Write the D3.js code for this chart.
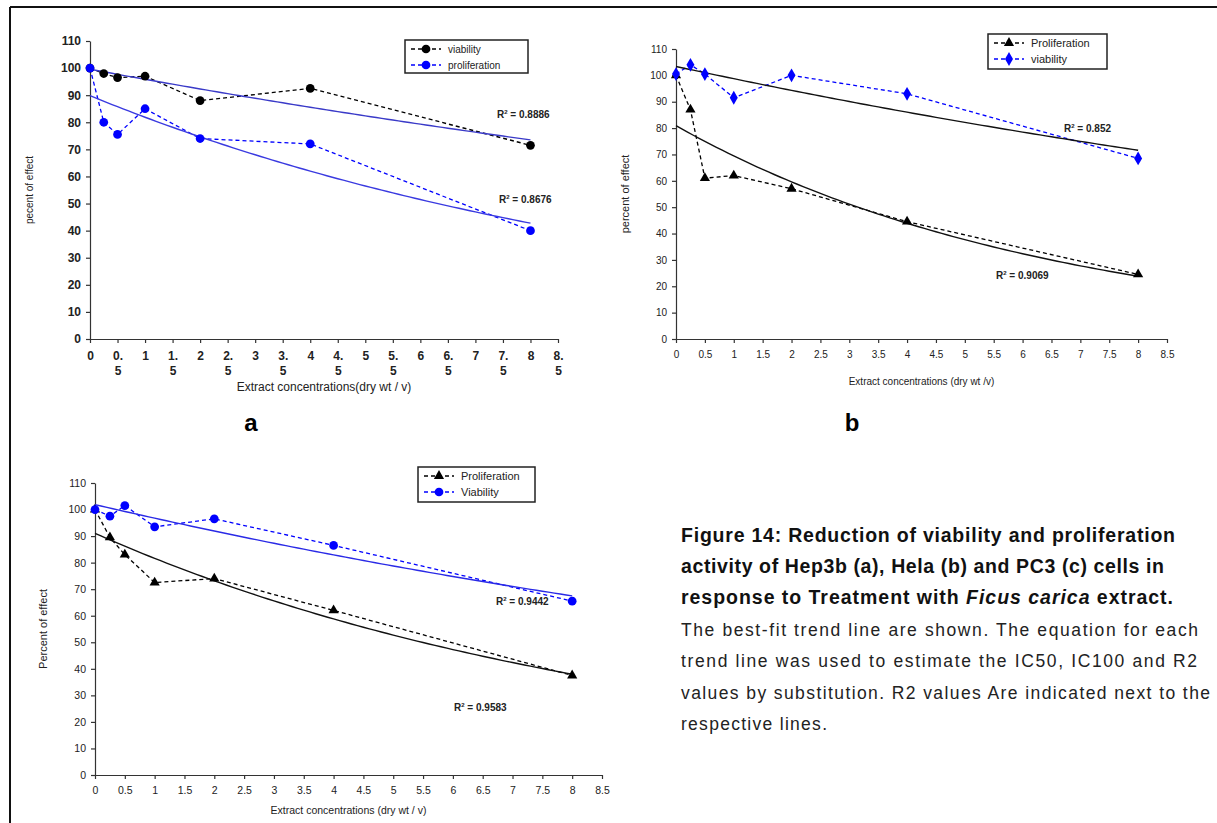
<!DOCTYPE html>
<html>
<head>
<meta charset="utf-8">
<script src="https://cdn.jsdelivr.net/npm/d3@7"></script>
<style>
  body { margin: 0; background: #fff; }
  svg { display: block; }
  text { font-family: "Liberation Sans", Arial, sans-serif; }
</style>
</head>
<body>
<div id="chart"></div>
<script>
// concentrations (dry wt / v), same for all three cell lines
const conc = [0, 0.25, 0.5, 1, 2, 4, 8];

// Hep3b (a)
const hep3bViability     = [100, 98, 96.5, 97, 88, 92.5, 71.5];
const hep3bProliferation = [100, 80, 75.5, 85, 74, 72, 40];
// Hela (b)
const helaProliferation  = [100, 87, 61, 62, 57, 44.5, 24.5];
const helaViability      = [100.5, 104, 100.5, 91.5, 100, 93, 68.5];
// PC3 (c)
const pc3Proliferation   = [100, 89.5, 83, 72.5, 74, 62, 37.5];
const pc3Viability       = [100, 97.5, 101.5, 93.5, 96.5, 86.5, 65.5];

// r squared labels as printed on the figure
const r2Labels = { a: ["0.8886", "0.8676"], b: ["0.9069", "0.852"], c: ["0.9583", "0.9442"] };

const xTicks = d3.range(0, 8.51, 0.5);
const yTicks = d3.range(0, 111, 10);

const W = 1217, H = 823;
const svg = d3.select("#chart").append("svg")
    .attr("width", W)
    .attr("height", H);

// outer frame (left and top only)
svg.append("line").attr("x1", 10).attr("x2", 10).attr("y1", 7).attr("y2", H)
    .attr("stroke", "#111").attr("stroke-width", 2);
svg.append("line").attr("x1", 10).attr("x2", W).attr("y1", 7).attr("y2", 7)
    .attr("stroke", "#111").attr("stroke-width", 2);

// exponential least squares trend, like the spreadsheet does it
function expFit(xs, ys) {
    const ly = ys.map(Math.log);
    const mx = d3.mean(xs), my = d3.mean(ly);
    let sxy = 0, sxx = 0;
    xs.forEach((x, i) => { sxy += (x - mx) * (ly[i] - my); sxx += (x - mx) * (x - mx); });
    const b = sxy / sxx;
    return { a: Math.exp(my - b * mx), b: b };
}

function markerPath(type, size) {
    const sym = type === "triangle" ? d3.symbolTriangle
              : type === "diamond" ? d3.symbolDiamond
              : d3.symbolCircle;
    return d3.symbol().type(sym).size(size)();
}

function drawPanel(p) {
    const x = d3.scaleLinear().domain([0, 8.5]).range([p.left, p.right]);
    const y = d3.scaleLinear().domain([0, 110]).range([p.bottom, p.top]);
    const g = svg.append("g");

    // y axis
    const ya = g.append("g")
        .attr("transform", `translate(${p.left},0)`)
        .call(d3.axisLeft(y).tickValues(yTicks).tickSize(4).tickSizeOuter(0).tickPadding(5));
    ya.selectAll("text").style("font-size", p.tickFont + "px").attr("fill", "#222")
        .style("font-weight", p.tickWeight || "normal");

    // x axis
    const xa = g.append("g")
        .attr("transform", `translate(0,${p.bottom})`)
        .call(d3.axisBottom(x).tickValues(xTicks).tickSize(4).tickSizeOuter(0).tickPadding(8)
            .tickFormat(d => String(d)));
    xa.selectAll("text").style("font-size", p.tickFont + "px").attr("fill", "#222")
        .style("font-weight", p.tickWeight || "normal");
    if (p.twoLineTicks) {
        xa.selectAll("text").each(function(d) {
            const t = d3.select(this);
            const s = String(d);
            if (s.indexOf(".") > 0) {
                const parts = s.split(".");
                t.text(null);
                t.append("tspan").attr("x", 0).text(parts[0] + ".");
                t.append("tspan").attr("x", 0).attr("dy", "1.3em").text(parts[1]);
            }
        });
    }
    g.selectAll(".domain, .tick line").attr("stroke", "#333").attr("stroke-width", 1.2);

    // axis titles
    g.append("text")
        .attr("x", (p.left + p.right) / 2).attr("y", p.xTitleY)
        .attr("text-anchor", "middle")
        .style("font-size", p.titleFont + "px").attr("fill", "#222")
        .text(p.xTitle);
    g.append("text")
        .attr("transform", `translate(${p.yTitleX},${(p.top + p.bottom) / 2}) rotate(-90)`)
        .attr("text-anchor", "middle")
        .style("font-size", p.yTitleFont + "px").attr("fill", "#222")
        .text(p.yTitle);

    const line = d3.line().x(d => x(d[0])).y(d => y(d[1]));

    p.series.forEach(s => {
        const pts = conc.map((c, i) => [c, s.values[i]]);
        const fit = expFit(conc, s.values);
        const trend = d3.range(0, 8.001, 0.1).map(c => [c, fit.a * Math.exp(fit.b * c)]);

        g.append("path").datum(pts)
            .attr("d", line).attr("fill", "none")
            .attr("stroke", s.color).attr("stroke-width", 1.3)
            .attr("stroke-dasharray", "4,3");

        g.append("path").datum(trend)
            .attr("d", line).attr("fill", "none")
            .attr("stroke", s.trendColor).attr("stroke-width", 1.4);

        g.selectAll(null).data(pts).enter().append("path")
            .attr("transform", d => `translate(${x(d[0])},${y(d[1])})`)
            .attr("d", markerPath(s.marker, s.markerSize))
            .attr("fill", s.color);

        const r = g.append("text")
            .attr("x", s.r2x).attr("y", s.r2y)
            .style("font-size", "10px").style("font-weight", "bold").attr("fill", "#222");
        r.append("tspan").text("R");
        r.append("tspan").attr("dy", -4).style("font-size", "6px").text("2");
        r.append("tspan").attr("dy", 4).text(" = " + s.r2);
    });

    // legend
    const lg = g.append("g").attr("transform", `translate(${p.legend.x},${p.legend.y})`);
    lg.append("rect").attr("width", p.legend.w).attr("height", p.legend.h)
        .attr("fill", "#fff").attr("stroke", "#222").attr("stroke-width", 1.5);
    p.series.slice().sort((a, b) => a.legendOrder - b.legendOrder).forEach((s, i) => {
        const ly = 9 + i * 16;
        lg.append("line").attr("x1", 6).attr("x2", 36).attr("y1", ly).attr("y2", ly)
            .attr("stroke", s.color).attr("stroke-width", 1.3).attr("stroke-dasharray", "4,3");
        lg.append("path").attr("transform", `translate(21,${ly})`)
            .attr("d", markerPath(s.marker, s.markerSize)).attr("fill", s.color);
        lg.append("text").attr("x", 43).attr("y", ly + 4)
            .style("font-size", p.legendFont + "px").attr("fill", "#222")
            .text(s.name);
    });

    if (p.label.text) {
        svg.append("text").attr("x", p.label.x).attr("y", p.label.y)
            .attr("text-anchor", "middle")
            .style("font-size", "24px").style("font-weight", "bold")
            .text(p.label.text);
    }
}

// a: Hep3b
drawPanel({
    left: 90, right: 558, top: 41, bottom: 339,
    tickFont: 12, tickWeight: "bold", twoLineTicks: true,
    titleFont: 12, yTitleFont: 10,
    xTitle: "Extract concentrations(dry wt / v)", xTitleY: 391,
    yTitle: "pecent of effect", yTitleX: 33,
    legend: { x: 405, y: 40, w: 123, h: 33 }, legendFont: 10,
    label: { text: "a", x: 251, y: 431 },
    series: [
        { name: "viability", values: hep3bViability, color: "#000", marker: "circle", markerSize: 60,
          trendColor: "#3a3ac8", r2: r2Labels.a[0], r2x: 497, r2y: 118, legendOrder: 0 },
        { name: "proliferation", values: hep3bProliferation, color: "#0000ff", marker: "circle", markerSize: 60,
          trendColor: "#3a3ae0", r2: r2Labels.a[1], r2x: 499, r2y: 203, legendOrder: 1 }
    ]
});

// b: Hela
drawPanel({
    left: 676, right: 1167, top: 49, bottom: 339,
    tickFont: 10, twoLineTicks: false,
    titleFont: 10, yTitleFont: 11,
    xTitle: "Extract concentrations (dry wt /v)", xTitleY: 385,
    yTitle: "percent of effect", yTitleX: 629,
    legend: { x: 988, y: 34, w: 119, h: 35 }, legendFont: 11,
    label: { text: "b", x: 852, y: 431 },
    series: [
        { name: "Proliferation", values: helaProliferation, color: "#000", marker: "triangle", markerSize: 45,
          trendColor: "#111", r2: r2Labels.b[0], r2x: 996, r2y: 279, legendOrder: 0 },
        { name: "viability", values: helaViability, color: "#0000ff", marker: "diamond", markerSize: 55,
          trendColor: "#111", r2: r2Labels.b[1], r2x: 1064, r2y: 132, legendOrder: 1 }
    ]
});

// c: PC3
drawPanel({
    left: 95, right: 602, top: 483, bottom: 775,
    tickFont: 10.5, twoLineTicks: false,
    titleFont: 10.5, yTitleFont: 11,
    xTitle: "Extract concentrations (dry wt / v)", xTitleY: 814,
    yTitle: "Percent of effect", yTitleX: 47,
    legend: { x: 418, y: 467, w: 117, h: 35 }, legendFont: 11,
    label: { text: "", x: 0, y: 0 },
    series: [
        { name: "Proliferation", values: pc3Proliferation, color: "#000", marker: "triangle", markerSize: 45,
          trendColor: "#111", r2: r2Labels.c[0], r2x: 454, r2y: 711, legendOrder: 0 },
        { name: "Viability", values: pc3Viability, color: "#0000ff", marker: "circle", markerSize: 60,
          trendColor: "#2a2ae6", r2: r2Labels.c[1], r2x: 496, r2y: 605, legendOrder: 1 }
    ]
});

// caption (widths matched to the reference with textLength)
const cap = svg.append("g").attr("fill", "#111");
const boldLines = [
    { w: 494, parts: [{ t: "Figure 14:  Reduction of viability and proliferation" }] },
    { w: 483, parts: [{ t: "activity of Hep3b (a), Hela (b) and PC3 (c) cells  in" }] },
    { w: 492, parts: [{ t: "response to Treatment with " }, { t: "Ficus carica", i: true }, { t: " extract." }] }
];
boldLines.forEach((ln, k) => {
    const t = cap.append("text").attr("x", 681).attr("y", 542 + k * 31)
        .attr("textLength", ln.w).attr("lengthAdjust", "spacing")
        .style("font-size", "19.5px").style("font-weight", "bold");
    ln.parts.forEach(pt => t.append("tspan").style("font-style", pt.i ? "italic" : "normal").text(pt.t));
});
const plainLines = [
    { w: 517, t: "The best-fit trend line are shown. The equation for each" },
    { w: 516, t: "trend line was used to estimate the IC50, IC100 and R2" },
    { w: 529, t: "values by substitution. R2 values Are indicated next to the" },
    { w: 146, t: "respective lines." }
];
plainLines.forEach((ln, k) => {
    cap.append("text").attr("x", 681).attr("y", 636 + k * 31.3)
        .attr("textLength", ln.w).attr("lengthAdjust", "spacing")
        .style("font-size", "17.5px").attr("fill", "#222").text(ln.t);
});
</script>
</body>
</html>
